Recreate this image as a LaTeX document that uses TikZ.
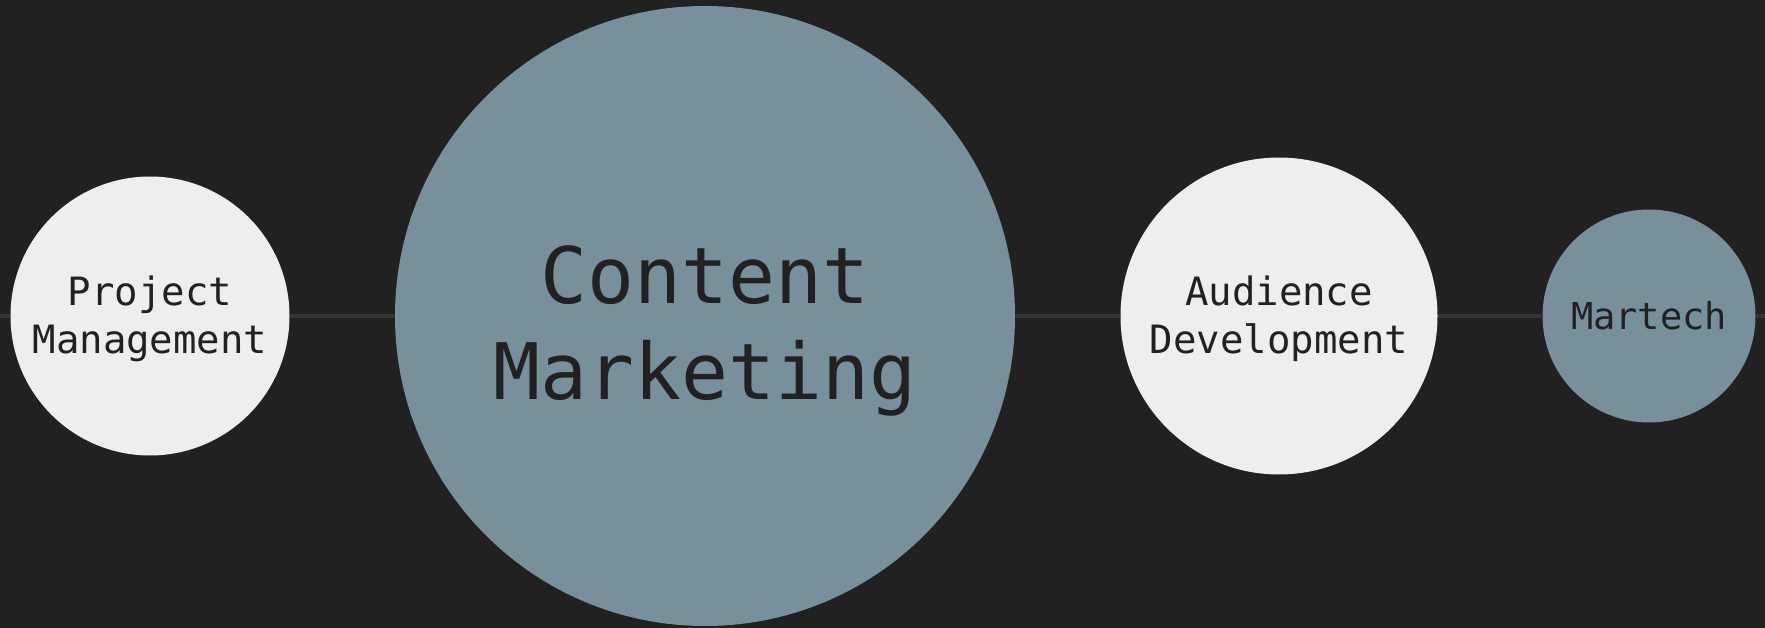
\documentclass[tikz,border=0pt]{standalone}
\usepackage{fontspec}
\setmonofont{DejaVu Sans Mono}
\definecolor{bg}{HTML}{212121}
\definecolor{rail}{HTML}{333333}
\definecolor{light}{HTML}{EEEEEE}
\definecolor{slate}{HTML}{78909C}
\definecolor{ink}{HTML}{212121}
\tikzset{
  disc/.style={circle, inner sep=0pt, draw=none},
  lightdisc/.style={disc, fill=light},
  slatedisc/.style={disc, fill=slate},
  caption/.style={anchor=base, inner sep=0pt, text=ink, font=\ttfamily},
  rail/.style={draw=rail, line width=4pt},
}
\newcommand{\twolines}[2]{\begin{tabular}[t]{@{}c@{}}#1\\#2\end{tabular}}
\begin{document}
\begin{tikzpicture}[x=1pt,y=1pt]
  \fill[bg] (0,0) rectangle (1765,-628);
  \useasboundingbox (0,0) rectangle (1765,-628);

  % circles along the rail
  \node[lightdisc, minimum size=279pt] (pm) at (150,-316) {};
  \node[slatedisc, minimum size=620pt] (cm) at (705,-316) {};
  \node[lightdisc, minimum size=317pt] (ad) at (1279,-316) {};
  \node[slatedisc, minimum size=213pt] (mt) at (1649,-316) {};

  % rail ends at the page edges
  \coordinate (railL) at (0,-316);
  \coordinate (railR) at (1765,-316);

  \draw[rail] (railL) -- (pm.west);
  \draw[rail] (pm) -- (cm);
  \draw[rail] (cm) -- (ad);
  \draw[rail] (ad) -- (mt);
  \draw[rail] (mt.east) -- (railR);

  % labels
  \node[caption, font=\ttfamily\fontsize{39}{47.6}\selectfont]
    (pmtext) at ([yshift=10.3pt]pm.center) {\twolines{Project}{Management}};
  \node[caption, font=\ttfamily\fontsize{78}{96}\selectfont]
    (cmtext) at ([yshift=12pt]cm.center) {\twolines{Content}{Marketing}};
  \node[caption, font=\ttfamily\fontsize{39}{47.6}\selectfont]
    (adtext) at ([yshift=10.3pt]ad.center) {\twolines{Audience}{Development}};
  \node[caption, font=\ttfamily\fontsize{37}{45}\selectfont]
    (mttext) at ([yshift=-14pt]mt.center) {Martech};
\end{tikzpicture}
\end{document}
